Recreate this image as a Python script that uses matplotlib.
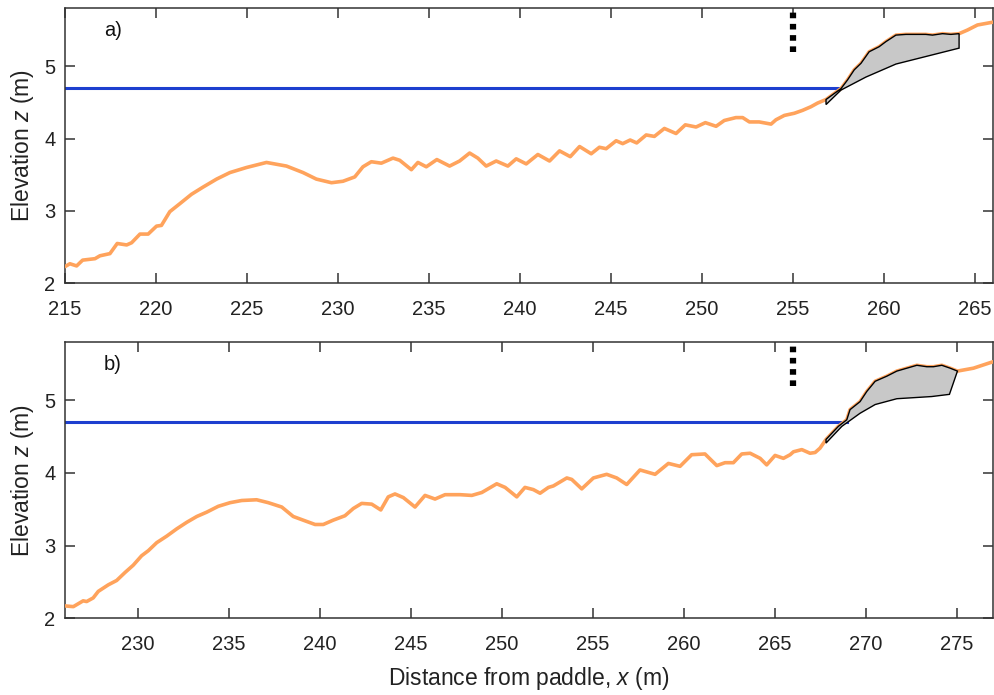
import numpy as np
import matplotlib
matplotlib.use('Agg')
import matplotlib.pyplot as plt

plt.rcParams['font.family'] = ['Liberation Sans', 'DejaVu Sans']
plt.rcParams['mathtext.fontset'] = 'custom'
plt.rcParams['mathtext.rm'] = 'Liberation Sans'
plt.rcParams['mathtext.it'] = 'Liberation Sans:italic'

# panel a) profile
x_a = [215.0, 215.27, 215.64, 215.97, 216.65, 216.92, 217.47, 217.87, 218.39, 218.66,
       219.12, 219.57, 220.03, 220.3, 220.76, 221.31, 221.95, 222.59, 223.33, 224.06,
       224.97, 226.07, 227.17, 228.08, 228.81, 229.64, 230.27, 230.92, 231.37, 231.83,
       232.38, 233.02, 233.39, 234.03, 234.39, 234.85, 235.43, 236.13, 236.68, 237.23,
       237.68, 238.14, 238.69, 239.33, 239.79, 240.34, 240.98, 241.62, 242.17, 242.76,
       243.27, 243.91, 244.36, 244.73, 245.28, 245.64, 246.05, 246.41, 246.93, 247.38,
       247.93, 248.57, 249.08, 249.67, 250.18, 250.77, 251.22, 251.86, 252.23, 252.6,
       253.14, 253.79, 254.06, 254.52, 255.07, 255.52, 255.98, 256.34, 256.81, 257.63,
       257.99, 258.36, 258.73, 259.18, 259.73, 260.1, 260.65, 261.2, 261.74, 262.29,
       262.66, 263.21, 263.67, 264.12, 264.58, 265.13, 266.0]
z_a = [2.23, 2.27, 2.24, 2.32, 2.34, 2.38, 2.41, 2.55, 2.53, 2.56,
       2.68, 2.68, 2.79, 2.80, 2.99, 3.10, 3.23, 3.33, 3.44, 3.53,
       3.60, 3.67, 3.62, 3.53, 3.44, 3.39, 3.41, 3.47, 3.61, 3.68,
       3.66, 3.73, 3.70, 3.57, 3.67, 3.61, 3.71, 3.62, 3.69, 3.80,
       3.73, 3.62, 3.69, 3.62, 3.72, 3.65, 3.78, 3.69, 3.83, 3.75,
       3.89, 3.79, 3.88, 3.86, 3.97, 3.93, 3.98, 3.94, 4.05, 4.03,
       4.14, 4.07, 4.19, 4.16, 4.22, 4.17, 4.25, 4.29, 4.29, 4.23,
       4.23, 4.20, 4.26, 4.32, 4.35, 4.39, 4.44, 4.49, 4.54, 4.69,
       4.81, 4.95, 5.04, 5.20, 5.27, 5.34, 5.43, 5.44, 5.44, 5.44,
       5.43, 5.45, 5.44, 5.45, 5.50, 5.57, 5.61]

# panel b) profile
x_b = [226.0, 226.46, 227.0, 227.19, 227.55, 227.83, 228.38, 228.84, 229.3, 229.75,
       230.21, 230.58, 231.04, 231.59, 232.14, 232.69, 233.24, 233.79, 234.42, 235.07,
       235.71, 236.53, 237.17, 237.91, 238.54, 239.19, 239.74, 240.19, 240.74, 241.38,
       241.84, 242.3, 242.85, 243.35, 243.76, 244.13, 244.59, 245.23, 245.78, 246.33,
       246.88, 247.7, 248.35, 248.9, 249.72, 250.18, 250.82, 251.27, 251.73, 252.1,
       252.56, 252.83, 253.57, 253.84, 254.39, 255.03, 255.76, 256.31, 256.86, 257.59,
       258.42, 259.15, 259.79, 260.43, 261.16, 261.81, 262.26, 262.72, 263.18, 263.64,
       264.19, 264.55, 265.01, 265.47, 265.84, 266.02, 266.48, 266.93, 267.21, 267.48,
       267.81, 268.49, 268.95, 269.13, 269.68, 270.05, 270.51, 271.15, 271.7, 272.25,
       272.8, 273.35, 273.71, 274.17, 274.63, 275.03, 275.91, 277.0]
z_b = [2.17, 2.16, 2.24, 2.23, 2.28, 2.37, 2.46, 2.52, 2.63, 2.73,
       2.86, 2.93, 3.04, 3.13, 3.23, 3.32, 3.40, 3.46, 3.54, 3.59,
       3.62, 3.63, 3.59, 3.53, 3.40, 3.34, 3.29, 3.29, 3.35, 3.41,
       3.51, 3.58, 3.57, 3.49, 3.67, 3.71, 3.66, 3.53, 3.69, 3.64,
       3.70, 3.70, 3.69, 3.73, 3.85, 3.80, 3.67, 3.80, 3.77, 3.72,
       3.80, 3.82, 3.93, 3.91, 3.78, 3.93, 3.98, 3.93, 3.84, 4.04,
       3.98, 4.13, 4.09, 4.25, 4.26, 4.10, 4.14, 4.14, 4.26, 4.27,
       4.20, 4.11, 4.24, 4.20, 4.25, 4.29, 4.32, 4.27, 4.28, 4.34,
       4.46, 4.64, 4.73, 4.87, 4.98, 5.12, 5.26, 5.33, 5.40, 5.44,
       5.48, 5.46, 5.46, 5.48, 5.44, 5.40, 5.44, 5.53]

# eroded dune volume: lower (post-storm) edge, right to left
scarp_a_x = [264.12, 264.12, 260.65, 259.0, 257.63, 256.81]
scarp_a_z = [5.45, 5.25, 5.03, 4.85, 4.67, 4.47]
scarp_b_x = [275.03, 274.59, 273.62, 271.7, 270.51, 269.68, 268.68, 267.81]
scarp_b_z = [5.40, 5.08, 5.05, 5.02, 4.94, 4.82, 4.64, 4.41]

water_level = 4.7
water_end = [257.63, 268.95]
marker_x = [255.0, 266.0]
marker_z = [5.2, 5.8]

xlims = [(215, 266), (226, 277)]
xticks = [np.arange(215, 266, 5), np.arange(230, 277, 5)]
letters = ['a)', 'b)']

orange = '#ffa35c'
blue = '#1d3fcf'


def drawPanel(ax, x, z, sx, sz, x_end, xm, xlim, ticks, letter):
    x = np.array(x)
    z = np.array(z)
    ax.plot([xlim[0], x_end], [water_level, water_level], color=blue, lw=2.2, zorder=2)
    ax.plot(x, z, color=orange, lw=2.6, zorder=3, solid_capstyle='round',
            solid_joinstyle='round')
    m = (x >= sx[-1]) & (x <= sx[0])
    px = list(x[m]) + list(sx)
    pz = list(z[m]) + list(sz)
    ax.fill(px, pz, facecolor='#c8c8c8', edgecolor='black', lw=1.0, zorder=4)
    ax.plot([xm, xm], marker_z, color='black', lw=4.5, ls=(0, (0.9, 0.9)),
            solid_capstyle='butt', dash_capstyle='butt', zorder=5)
    ax.text(0.042, 0.92, letter, transform=ax.transAxes, fontsize=14.5,
            ha='left', va='center', color='#111111')

    ax.set_xlim(*xlim)
    ax.set_ylim(2, 5.8)
    ax.set_xticks(ticks)
    ax.set_yticks([2, 3, 4, 5])
    ax.tick_params(direction='in', length=7, width=1.1, top=True, right=True,
                   labelsize=14.5, colors='#333333', labelcolor='#222222')
    ax.tick_params(axis='x', pad=12)
    ax.tick_params(axis='y', pad=7)
    for s in ax.spines.values():
        s.set_color('#333333')
        s.set_linewidth(1.1)
    ax.set_ylabel('Elevation $\\it{z}$ (m)', fontsize=16.5, color='#222222', labelpad=6)


fig = plt.figure(figsize=(9.95, 6.95), dpi=100)
ax1 = fig.add_axes([0.0653, 0.5924, 0.933, 0.3956])
ax2 = fig.add_axes([0.0653, 0.1104, 0.933, 0.3975])

drawPanel(ax1, x_a, z_a, scarp_a_x, scarp_a_z, water_end[0], marker_x[0], xlims[0], xticks[0], letters[0])
drawPanel(ax2, x_b, z_b, scarp_b_x, scarp_b_z, water_end[1], marker_x[1], xlims[1], xticks[1], letters[1])
ax2.set_xlabel('Distance from paddle, $\\it{x}$ (m)', fontsize=16.5, color='#222222', labelpad=8)

fig.savefig('out.png', dpi=100)
print('saved out.png')
